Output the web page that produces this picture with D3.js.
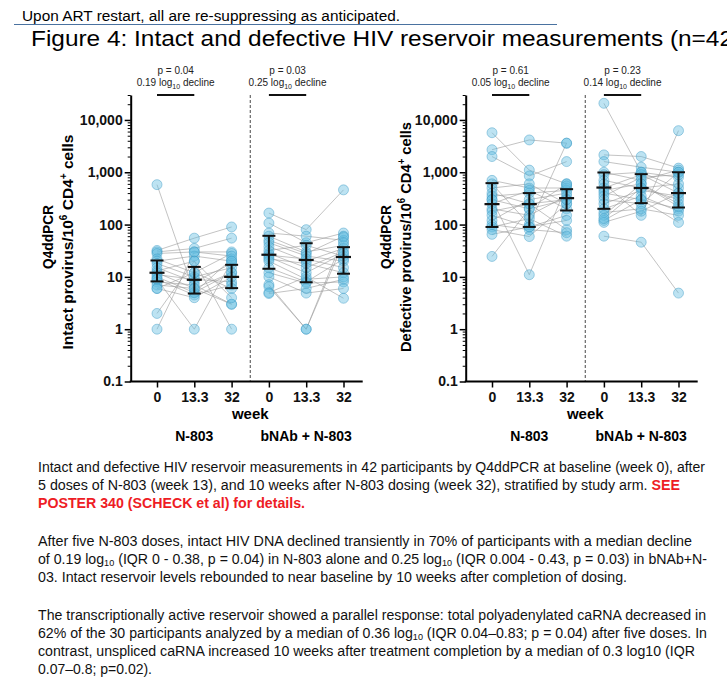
<!DOCTYPE html>
<html><head><meta charset="utf-8">
<script src="https://cdn.jsdelivr.net/npm/d3@7"></script>
<style>
body{margin:0;background:#fff}
svg{display:block;font-family:Arial,"Liberation Sans",sans-serif}
</style>
</head><body>
<svg id="c" width="727" height="681"></svg>
<script>
// ---------- data ----------
const weeks = ["0", "13.3", "32"];
const arms = ["N-803", "bNAb + N-803"];
const majorTicks = [0.1, 1, 10, 100, 1000, 10000];

// intact provirus per participant [week0, week13.3, week32]
const intactN803 = [
  [580,5,12],[32,55,90],[30,35,55],[28,30,30],[22,12,28],[20,25,20],[18,10,15],
  [15,8,18],[13,20,1],[12,6,12],[11,9,8],[10,5,22],[9,4.5,7],[8,7,3],[7,6,3],
  [6,4,10],[6,12,6],[2,20,4],[1,30,25],[9,1,20]
];
const intactBNAb = [
  [166,80,461],[107,45,69],[69,60,50],[60,30,40],[50,28,60],[45,25,20],[38,20,35],
  [32,40,25],[28,15,30],[26,22,15],[24,12,28],[22,18,12],[20,9,10],[15,8,22],
  [12,7.6,8],[10,4.9,6],[7.1,1,58],[6.5,1,45],[5,10,3.9],[4.8,6,9]
];
// defective provirus per participant
const defectiveN803 = [
  [5700,1100,600],[2700,4150,3600],[2000,850,1600],[700,500,500],[600,100,3600],
  [500,600,250],[400,250,300],[350,400,450],[300,200,600],[250,450,200],
  [200,150,350],[180,250,80],[150,90,150],[120,300,400],[100,80,70],
  [90,130,60],[80,59,250],[65,90,120],[300,11,550],[24.6,200,300]
];
const defectiveBNAb = [
  [20800,1000,800],[2150,2000,1200],[1600,1250,1000],[1000,700,1100],[900,1000,500],
  [700,500,300],[600,150,6250],[500,900,400],[450,600,250],[400,300,200],
  [350,800,900],[300,250,1000],[250,450,350],[200,350,180],[170,200,150],
  [150,600,220],[120,300,110],[110,180,400],[60,46,4.9],[130,500,600]
];
// medians and IQR
const intactMedian = [[12, 8.8, 10], [26.5, 21, 24]];
const intactQ1     = [[8.2, 4.8, 6.1], [14.3, 7.9, 11.5]];
const intactQ3     = [[20.6, 15.5, 17], [61, 44, 37]];
const defectiveMedian = [[246, 246, 320], [510, 500, 400]];
const defectiveQ1     = [[90, 90, 186], [200, 257, 212]];
const defectiveQ3     = [[620, 400, 475], [990, 920, 1000]];
// annotations
const intactP = ["p = 0.04", "p = 0.03"];
const intactDecline = ["0.19", "0.25"];
const defectiveP = ["p = 0.61", "p = 0.23"];
const defectiveDecline = ["0.05", "0.14"];

// ---------- drawing ----------
const svg = d3.select("#c");

// header
svg.append("text").attr("x", 22).attr("y", 21).attr("font-size", 14)
  .attr("textLength", 378).attr("lengthAdjust", "spacingAndGlyphs")
  .text("Upon ART restart, all are re-suppressing as anticipated.");
svg.append("line").attr("x1", 14).attr("x2", 557).attr("y1", 24.5).attr("y2", 24.5)
  .attr("stroke", "#4a72a0").attr("stroke-width", 1.2);
svg.append("text").attr("x", 31).attr("y", 46).attr("font-size", 22)
  .attr("textLength", 702).attr("lengthAdjust", "spacingAndGlyphs")
  .text("Figure 4: Intact and defective HIV reservoir measurements (n=42");

const y = d3.scaleLog().domain([0.1, 30000]).range([381.5, 95]);
const minorTicks = [];
for (let e = -1; e <= 4; e++) for (let m = 2; m <= 9; m++) {
  const v = m * Math.pow(10, e); if (v <= 30000) minorTicks.push(v);
}

function drawPanel(ox, groups, med, q1, q3, label, pTxt, decl, t1x, t2x, t1y, t2y, t2len) {
  const keys = [];
  arms.forEach((a, ai) => weeks.forEach((w, wi) => keys.push(ai + "|" + wi)));
  const x = d3.scalePoint().domain(keys).range([ox + 26.3, ox + 212.8]);
  const g = svg.append("g");

  // y axis
  const ya = g.append("g").attr("transform", `translate(${ox},0)`)
    .call(d3.axisLeft(y).tickValues(majorTicks).tickFormat(d3.format(",")).tickSize(6).tickSizeOuter(0));
  ya.select(".domain").attr("stroke-width", 2);
  ya.selectAll(".tick line").attr("stroke-width", 1.5);
  ya.selectAll(".tick text").attr("font-size", 14).attr("font-weight", "bold")
    .attr("font-family", "Arial, 'Liberation Sans', sans-serif").attr("fill", "#111").attr("x", -8);
  const ym = g.append("g").attr("transform", `translate(${ox},0)`)
    .call(d3.axisLeft(y).tickValues(minorTicks).tickFormat("").tickSize(3).tickSizeOuter(0));
  ym.select(".domain").remove();

  // x axis
  g.append("line").attr("x1", ox - 1).attr("x2", ox + 232).attr("y1", 381.5).attr("y2", 381.5)
    .attr("stroke", "#000").attr("stroke-width", 2);
  const xa = g.append("g").attr("transform", "translate(0,381.5)")
    .call(d3.axisBottom(x).tickFormat(k => weeks[+k.split("|")[1]]).tickSize(6).tickSizeOuter(0));
  xa.select(".domain").remove();
  xa.selectAll(".tick line").attr("stroke-width", 1.5);
  xa.selectAll(".tick text").attr("font-size", 14).attr("font-weight", "bold")
    .attr("font-family", "Arial, 'Liberation Sans', sans-serif").attr("fill", "#111").attr("y", 11);

  // dashed separator
  const mid = (x("0|2") + x("1|0")) / 2;
  g.append("line").attr("x1", mid).attr("x2", mid).attr("y1", 95).attr("y2", 381)
    .attr("stroke", "#333").attr("stroke-width", 0.9).attr("stroke-dasharray", "3,2");

  // axis labels
  g.append("text").attr("x", mid).attr("y", 419).attr("text-anchor", "middle")
    .attr("font-size", 15).attr("font-weight", "bold").text("week");
  arms.forEach((a, ai) => {
    g.append("text").attr("x", x(ai + "|1")).attr("y", 441).attr("text-anchor", "middle")
      .attr("font-size", 14).attr("font-weight", "bold").text(a);
  });

  // y titles
  g.append("text").attr("transform", `translate(${t1x},${t1y}) rotate(-90)`).attr("text-anchor", "middle")
    .attr("font-size", 15).attr("font-weight", "bold")
    .attr("textLength", 64).attr("lengthAdjust", "spacingAndGlyphs").text("Q4ddPCR");
  const t2 = g.append("text").attr("transform", `translate(${t2x},${t2y}) rotate(-90)`)
    .attr("text-anchor", "middle").attr("font-size", 15.5).attr("font-weight", "bold")
    .attr("textLength", t2len).attr("lengthAdjust", "spacingAndGlyphs");
  t2.append("tspan").text(label + " provirus/10");
  t2.append("tspan").attr("dy", -6).attr("font-size", 10).text("6");
  t2.append("tspan").attr("dy", 6).text(" CD4");
  t2.append("tspan").attr("dy", -6).attr("font-size", 10).text("+");
  t2.append("tspan").attr("dy", 6).text(" cells");

  // participant lines and points
  groups.forEach((rows, ai) => {
    const line = d3.line().x((v, wi) => x(ai + "|" + wi)).y(v => y(v));
    g.append("g").selectAll("path").data(rows).join("path")
      .attr("d", r => line(r)).attr("fill", "none")
      .attr("stroke", "#9a9a9a").attr("stroke-opacity", 0.75).attr("stroke-width", 0.8);
  });
  groups.forEach((rows, ai) => {
    const pts = [];
    rows.forEach(r => r.forEach((v, wi) => pts.push({k: ai + "|" + wi, v})));
    g.append("g").selectAll("circle").data(pts).join("circle")
      .attr("cx", d => x(d.k)).attr("cy", d => y(d.v)).attr("r", 5)
      .attr("fill", "#62bde0").attr("fill-opacity", 0.42)
      .attr("stroke", "#3d9cc6").attr("stroke-opacity", 0.45).attr("stroke-width", 1);
  });

  // median + IQR bars
  arms.forEach((a, ai) => weeks.forEach((w, wi) => {
    const cx = x(ai + "|" + wi);
    const eb = g.append("g").attr("stroke", "#111").attr("stroke-width", 2);
    eb.append("line").attr("x1", cx).attr("x2", cx).attr("y1", y(q1[ai][wi])).attr("y2", y(q3[ai][wi]));
    [q1[ai][wi], q3[ai][wi]].forEach(v =>
      eb.append("line").attr("x1", cx - 6.5).attr("x2", cx + 6.5).attr("y1", y(v)).attr("y2", y(v)));
    eb.append("line").attr("x1", cx - 7.5).attr("x2", cx + 7.5)
      .attr("y1", y(med[ai][wi])).attr("y2", y(med[ai][wi])).attr("stroke-width", 2.2);
  }));

  // significance annotations
  arms.forEach((a, ai) => {
    const x0 = x(ai + "|0"), x1 = x(ai + "|1"), cx = (x0 + x1) / 2;
    g.append("line").attr("x1", x0).attr("x2", x1).attr("y1", 95).attr("y2", 95)
      .attr("stroke", "#111").attr("stroke-width", 2);
    g.append("text").attr("x", cx).attr("y", 74).attr("text-anchor", "middle")
      .attr("font-size", 10).attr("fill", "#222").text(pTxt[ai]);
    const t = g.append("text").attr("x", cx).attr("y", 86).attr("text-anchor", "middle")
      .attr("font-size", 10).attr("fill", "#222");
    t.append("tspan").text(decl[ai] + " log");
    t.append("tspan").attr("dy", 3).attr("font-size", 7).text("10");
    t.append("tspan").attr("dy", -3).text(" decline");
  });
}

drawPanel(130.7, [intactN803, intactBNAb], intactMedian, intactQ1, intactQ3,
  "Intact", intactP, intactDecline, 53, 73, 237, 242, 215);
drawPanel(465.7, [defectiveN803, defectiveBNAb], defectiveMedian, defectiveQ1, defectiveQ3,
  "Defective", defectiveP, defectiveDecline, 391, 411, 237, 237, 230);

// ---------- caption text ----------
const para = [
  {y: 472, w: 667, parts: [["Intact and defective HIV reservoir measurements in 42 participants by Q4ddPCR at baseline (week 0), after"]]},
  {y: 490, w: 642, parts: [["5 doses of N-803 (week 13), and 10 weeks after N-803 dosing (week 32), stratified by study arm. "], ["SEE", "red"]]},
  {y: 508, w: 267, parts: [["POSTER 340 (SCHECK et al) for details.", "red"]]},
  {y: 546, w: 654, parts: [["After five N-803 doses, intact HIV DNA declined transiently in 70% of participants with a median decline"]]},
  {y: 564, w: 669, parts: [["of 0.19 log"], ["10", "sub"], [" (IQR 0 - 0.38, p = 0.04) in N-803 alone and 0.25 log"], ["10", "sub"], [" (IQR 0.004 - 0.43, p = 0.03) in bNAb+N-"]]},
  {y: 582, w: 589, parts: [["03. Intact reservoir levels rebounded to near baseline by 10 weeks after completion of dosing."]]},
  {y: 620, w: 668, parts: [["The transcriptionally active reservoir showed a parallel response: total polyadenylated caRNA decreased in"]]},
  {y: 638, w: 669, parts: [["62% of the 30 participants analyzed by a median of 0.36 log"], ["10", "sub"], [" (IQR 0.04\u20130.83; p = 0.04) after five doses. In"]]},
  {y: 656, w: 657, parts: [["contrast, unspliced caRNA increased 10 weeks after treatment completion by a median of 0.3 log10 (IQR"]]},
  {y: 674, w: 114, parts: [["0.07\u20130.8; p=0.02)."]]}
];
para.forEach(p => {
  const t = svg.append("text").attr("x", 38).attr("y", p.y).attr("font-size", 14)
    .attr("textLength", p.w).attr("lengthAdjust", "spacingAndGlyphs").attr("fill", "#111");
  let sub = false;
  p.parts.forEach(([s, kind]) => {
    const ts = t.append("tspan").text(s);
    if (kind === "red") ts.attr("fill", "#ee1c25").attr("font-weight", "bold");
    if (kind === "sub") { ts.attr("font-size", 9).attr("dy", 2); sub = true; }
    else if (sub) { ts.attr("dy", -2); sub = false; }
  });
});
</script>
</body></html>
